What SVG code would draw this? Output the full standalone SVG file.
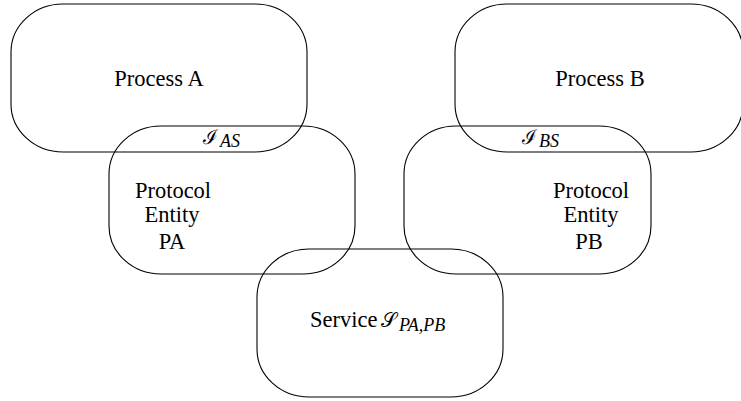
<svg xmlns="http://www.w3.org/2000/svg" width="741" height="401" viewBox="0 0 741 401">
  <style>
    .box { fill: none; stroke: #000; stroke-width: 1.1; }
    .lbl { font-family: "Liberation Serif", "Times New Roman", serif; font-size: 22.5px; fill: #000; }
    .scr { font-family: "Liberation Serif", serif; font-size: 20px; fill: #000; }
    .sub { font-family: "Liberation Serif", "Times New Roman", serif; font-style: italic; font-size: 18px; fill: #000; }
  </style>
  <rect width="741" height="401" fill="#fff"/>

  <!-- Application processes -->
  <g id="process-a">
    <rect class="box" x="11" y="4" width="296" height="148" rx="52" ry="48"/>
    <text class="lbl" x="159" y="86" text-anchor="middle">Process A</text>
  </g>
  <g id="process-b">
    <rect class="box" x="455" y="4" width="288" height="148" rx="52" ry="48"/>
    <text class="lbl" x="600" y="86" text-anchor="middle">Process B</text>
  </g>

  <!-- Protocol entities -->
  <g id="entity-pa">
    <rect class="box" x="109" y="126" width="246" height="148" rx="52" ry="48"/>
    <text class="lbl" x="173" y="198" text-anchor="middle">Protocol</text>
    <text class="lbl" x="172" y="222" text-anchor="middle">Entity</text>
    <text class="lbl" x="172" y="249" text-anchor="middle">PA</text>
  </g>
  <g id="entity-pb">
    <rect class="box" x="404" y="126" width="247" height="148" rx="52" ry="48"/>
    <text class="lbl" x="591" y="198" text-anchor="middle">Protocol</text>
    <text class="lbl" x="591" y="222" text-anchor="middle">Entity</text>
    <text class="lbl" x="589" y="249" text-anchor="middle">PB</text>
  </g>

  <!-- Service between the entities -->
  <g id="service">
    <rect class="box" x="257" y="249" width="246" height="148" rx="52" ry="48"/>
    <text class="lbl" x="310" y="327">Service</text>
    <text class="scr" x="381" y="327">𝒮</text>
    <text class="sub" x="399" y="331">PA,PB</text>
  </g>

  <!-- Interface labels in the overlaps -->
  <g id="interface-as">
    <text class="scr" x="203" y="144">ℐ</text>
    <text class="sub" x="220" y="147">AS</text>
  </g>
  <g id="interface-bs">
    <text class="scr" x="522" y="144">ℐ</text>
    <text class="sub" x="539" y="147">BS</text>
  </g>

  <g id="connectors"/>
</svg>
